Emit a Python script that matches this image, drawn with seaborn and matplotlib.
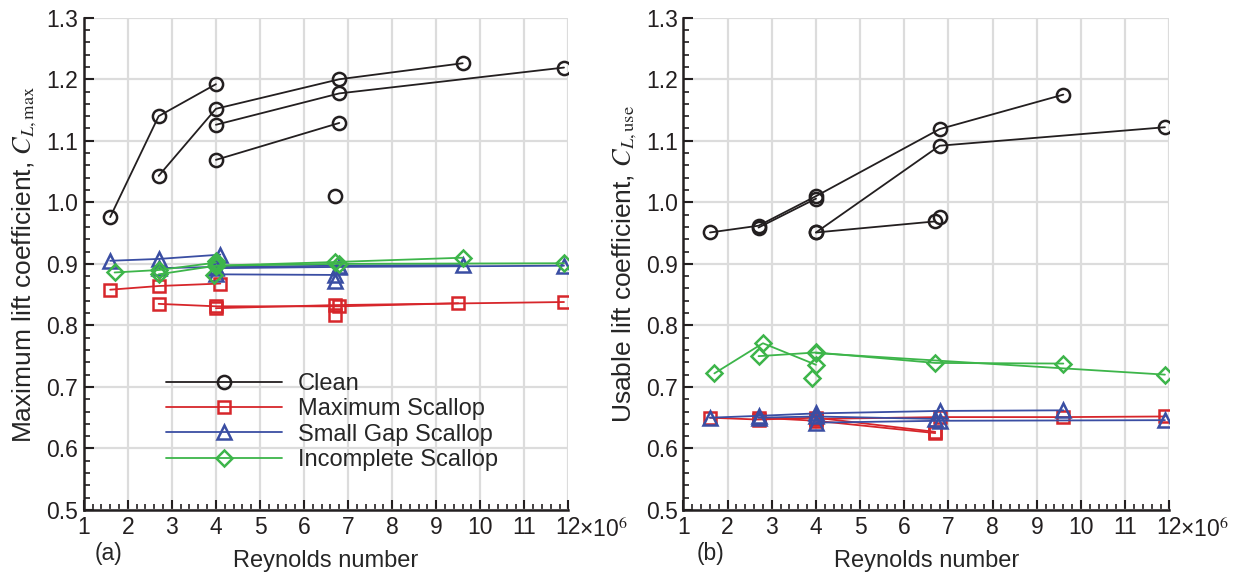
import matplotlib
matplotlib.use("Agg")
import matplotlib.pyplot as plt
import seaborn as sns
from matplotlib.ticker import MultipleLocator

# ---- data (Reynolds number in millions, lift coefficient) ----
# each run: (Re values, CL values)
clean_max = [
    ([1.6, 2.7, 4.0], [0.976, 1.140, 1.192]),
    ([2.7, 4.0, 6.8, 9.6], [1.043, 1.152, 1.200, 1.226]),
    ([4.0, 6.8, 11.9], [1.126, 1.177, 1.219]),
    ([4.0, 6.8], [1.069, 1.129]),
    ([6.7], [1.010]),
]
maxsc_max = [
    ([1.6, 2.7, 4.1], [0.858, 0.864, 0.868]),
    ([2.7, 4.0, 6.8, 9.5], [0.835, 0.831, 0.831, 0.836]),
    ([4.0, 6.7, 11.9], [0.828, 0.833, 0.838]),
    ([6.7], [0.817]),
]
gap_max = [
    ([1.6, 2.7, 4.1], [0.905, 0.908, 0.915]),
    ([4.0, 6.7], [0.883, 0.882]),
    ([2.7, 4.0, 6.8, 9.6], [0.893, 0.895, 0.897, 0.898]),
    ([4.0, 6.8, 11.9], [0.893, 0.895, 0.897]),
    ([6.7], [0.872]),
]
inc_max = [
    ([1.7, 2.7, 4.0], [0.886, 0.890, 0.902]),
    ([2.7, 4.0, 6.7, 9.6], [0.883, 0.897, 0.903, 0.910]),
    ([4.0, 6.8, 11.9], [0.897, 0.900, 0.901]),
    ([3.95], [0.882]),
    ([4.0], [0.905]),
]

clean_use = [
    ([1.6, 2.7, 4.0, 6.8, 9.6], [0.951, 0.962, 1.010, 1.119, 1.175]),
    ([2.7, 4.0], [0.959, 1.006]),
    ([4.0, 6.8, 11.9], [0.951, 1.092, 1.122]),
    ([4.0, 6.7], [0.951, 0.969]),
    ([6.8], [0.976]),
]
maxsc_use = [
    ([1.6, 2.7, 4.0, 6.7], [0.650, 0.647, 0.650, 0.627]),
    ([4.0, 6.8, 9.6, 11.9], [0.648, 0.651, 0.651, 0.652]),
    ([2.7, 4.0, 6.7], [0.650, 0.645, 0.625]),
]
gap_use = [
    ([1.6, 2.7, 4.0, 6.8, 9.6], [0.650, 0.653, 0.657, 0.661, 0.662]),
    ([4.0, 6.8, 11.9], [0.642, 0.645, 0.646]),
    ([2.7, 4.0, 6.7], [0.650, 0.652, 0.648]),
]
inc_use = [
    ([1.7, 2.8, 4.0], [0.722, 0.771, 0.736]),
    ([2.7, 4.0, 6.7, 9.6], [0.750, 0.756, 0.739, 0.738]),
    ([4.0, 11.9], [0.755, 0.720]),
    ([3.9], [0.715]),
]

names = ["Clean", "Maximum Scallop", "Small Gap Scallop", "Incomplete Scallop"]
colors = ["#231f20", "#d7262b", "#3a4ea3", "#3db54a"]
markers = ["o", "s", "^", "D"]
msizes = [9.5, 8, 9.5, 8]

xticks = list(range(1, 13))
xticklabels = [str(v) for v in range(1, 13)]

sns.set_style("white")
plt.rcParams["font.family"] = ["Liberation Sans", "DejaVu Sans"]
plt.rcParams["mathtext.fontset"] = "stix"

fig = plt.figure(figsize=(12.37, 5.77), dpi=100)
ax1 = fig.add_axes([0.0677, 0.1161, 0.3918, 0.8532])
ax2 = fig.add_axes([0.5525, 0.1161, 0.3928, 0.8532])


def draw(ax, groups, ylabel, tag, tagx, legend):
    for gi, runs in enumerate(groups):
        for ri, (xs, ys) in enumerate(runs):
            sns.lineplot(x=xs, y=ys, ax=ax, color=colors[gi], sort=False,
                         estimator=None, marker=markers[gi], markersize=msizes[gi],
                         markerfacecolor="none", markeredgecolor=colors[gi],
                         markeredgewidth=1.8, linewidth=1.3,
                         label=names[gi] if ri == 0 else None, legend=False)
    ax.set_xlim(1, 12)
    ax.set_ylim(0.5, 1.3)
    ax.set_xticks(xticks)
    ax.set_xticklabels(xticklabels)
    ax.xaxis.set_minor_locator(MultipleLocator(0.2))
    ax.yaxis.set_major_locator(MultipleLocator(0.1))
    ax.yaxis.set_minor_locator(MultipleLocator(0.02))
    ax.set_yticklabels([f"{v:.1f}" for v in ax.get_yticks()])
    ax.grid(True, which="major", color="#dcdcdc", linewidth=1.6, zorder=0)
    ax.set_axisbelow(True)
    for s in ["top", "right"]:
        ax.spines[s].set_visible(False)
    for s in ["left", "bottom"]:
        ax.spines[s].set_color("#231f20")
        ax.spines[s].set_linewidth(1.8)
    ax.tick_params(which="major", direction="in", length=7, width=1.5,
                   labelsize=16.5, pad=4, colors="#231f20", left=True, bottom=True)
    ax.tick_params(which="minor", direction="in", length=4, width=1.2,
                   colors="#231f20", left=True, bottom=True)
    # multiplier written right after the last tick label
    ax.annotate("\u00d710$^6$", xy=(1.0, 0.0), xycoords="axes fraction",
                xytext=(7.5, -5.5), textcoords="offset points", fontsize=16.5,
                color="#231f20", ha="left", va="top", annotation_clip=False)
    ax.set_xlabel("Reynolds number", fontsize=17, labelpad=8)
    ax.set_ylabel(ylabel, fontsize=19, labelpad=5)
    ax.text(tagx, -0.065, tag, transform=ax.transAxes, fontsize=16.5,
            ha="left", va="top")
    if legend:
        ax.legend(loc="lower left", bbox_to_anchor=(0.15, 0.06), frameon=False,
                  fontsize=17, handlelength=4.9, handletextpad=0.7,
                  labelspacing=0.14, borderaxespad=0)


draw(ax1, [clean_max, maxsc_max, gap_max, inc_max],
     r"Maximum lift coefficient, $C_{L,\mathrm{max}}$", "(a)", 0.023, True)
draw(ax2, [clean_use, maxsc_use, gap_use, inc_use],
     r"Usable lift coefficient, $C_{L,\mathrm{use}}$", "(b)", 0.028, False)

fig.savefig("out.png", dpi=100)
